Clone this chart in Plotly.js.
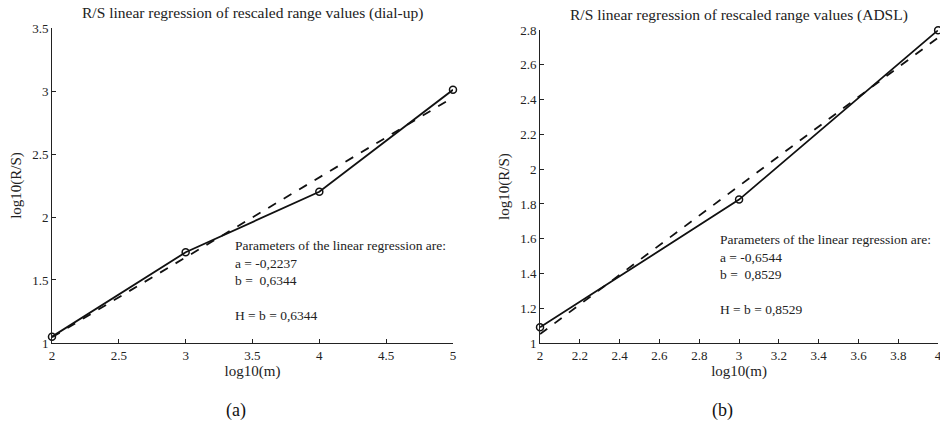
<!DOCTYPE html>
<html><head><meta charset="utf-8">
<script src="https://cdn.plot.ly/plotly-3.0.1.min.js"></script>
<style>html,body{margin:0;padding:0;background:#fff}#c{width:940px;height:425px}</style>
</head><body><div id="c"></div>
<script>
// Panel (a): dial-up
const dialX = [2, 3, 4, 5];
const dialY = [1.05, 1.72, 2.20, 3.01];
const dialFitX = [2, 5];
const dialFitY = [1.045, 2.949];
const dialXTicks = [2, 2.5, 3, 3.5, 4, 4.5, 5];
const dialYTicks = [1, 1.5, 2, 2.5, 3, 3.5];
// Panel (b): ADSL
const adslX = [2, 3, 4];
const adslY = [1.09, 1.825, 2.80];
const adslFitX = [2, 4];
const adslFitY = [1.051, 2.757];
const adslXTicks = [2, 2.2, 2.4, 2.6, 2.8, 3, 3.2, 3.4, 3.6, 3.8, 4];
const adslYTicks = [1, 1.2, 1.4, 1.6, 1.8, 2, 2.2, 2.4, 2.6, 2.8];

const titles = ["R/S linear regression of rescaled range values (dial-up)",
                "R/S linear regression of rescaled range values (ADSL)"];
const params = ["Parameters of the linear regression are:<br>a = -0,2237<br>b =  0,6344<br><br>H = b = 0,6344",
                "Parameters of the linear regression are:<br>a = -0,6544<br>b =  0,8529<br><br>H = b = 0,8529"];
const captions = ["(a)", "(b)"];

const F = "'Liberation Serif', 'Times New Roman', 'DejaVu Serif', serif";
const lineStyle = {color: "#111", width: 1.8};
const traces = [
  {x: dialX, y: dialY, xaxis: "x", yaxis: "y", mode: "lines+markers", line: lineStyle,
   marker: {symbol: "circle-open", size: 7, color: "#111", line: {width: 1.5}}, cliponaxis: false},
  {x: dialFitX, y: dialFitY, xaxis: "x", yaxis: "y", mode: "lines", line: {color: "#111", width: 1.8, dash: "dash"}},
  {x: adslX, y: adslY, xaxis: "x2", yaxis: "y2", mode: "lines+markers", line: lineStyle,
   marker: {symbol: "circle-open", size: 7, color: "#111", line: {width: 1.5}}, cliponaxis: false},
  {x: adslFitX, y: adslFitY, xaxis: "x2", yaxis: "y2", mode: "lines", line: {color: "#111", width: 1.8, dash: "dash"}}
];

function ax(extra) {
  return Object.assign({showline: true, linecolor: "#222", linewidth: 1, ticks: "inside", ticklen: 4,
    tickcolor: "#222", showgrid: false, zeroline: false, mirror: false, tickmode: "array",
    ticklabeloverflow: "allow",
    tickfont: {family: F, size: 13, color: "#222"}}, extra);
}
const tf = {family: F, size: 15, color: "#222"};
const hf = {family: F, size: 15.5, color: "#222"};
const pf = {family: F, size: 13.5, color: "#222"};

const layout = {
  width: 940, height: 425, margin: {l: 0, r: 0, t: 0, b: 0},
  paper_bgcolor: "#fff", plot_bgcolor: "#fff", showlegend: false,
  xaxis: ax({domain: [0.0553, 0.4819], range: [2, 5], tickvals: dialXTicks, anchor: "y",
    title: {text: "log10(m)", standoff: 2, font: tf}}),
  yaxis: ax({domain: [0.193, 0.934], range: [1, 3.5], tickvals: dialYTicks, anchor: "x",
    title: {text: "log10(R/S)", standoff: 6, font: tf}}),
  xaxis2: ax({domain: [0.5745, 0.998], range: [2, 4], tickvals: adslXTicks, anchor: "y2",
    title: {text: "log10(m)", standoff: 2, font: tf}}),
  yaxis2: ax({domain: [0.193, 0.929], range: [1, 2.8], tickvals: adslYTicks, anchor: "x2",
    title: {text: "log10(R/S)", standoff: 6, font: tf}}),
  annotations: [
    {xref: "paper", yref: "paper", x: 252/940, y: 1 - 13/425, text: titles[0], showarrow: false,
     font: hf, xanchor: "center", yanchor: "middle"},
    {xref: "paper", yref: "paper", x: 739/940, y: 1 - 15/425, text: titles[1], showarrow: false,
     font: hf, xanchor: "center", yanchor: "middle"},
    {xref: "paper", yref: "paper", x: 233/940, y: 1 - 236/425, text: params[0], showarrow: false, align: "left",
     font: pf, xanchor: "left", yanchor: "top"},
    {xref: "paper", yref: "paper", x: 718/940, y: 1 - 230/425, text: params[1], showarrow: false, align: "left",
     font: pf, xanchor: "left", yanchor: "top"},
    {xref: "paper", yref: "paper", x: 236/940, y: 1 - 410/425, text: captions[0], showarrow: false,
     font: {family: F, size: 18, color: "#111"}, xanchor: "center", yanchor: "middle"},
    {xref: "paper", yref: "paper", x: 722/940, y: 1 - 410/425, text: captions[1], showarrow: false,
     font: {family: F, size: 18, color: "#111"}, xanchor: "center", yanchor: "middle"}
  ]
};
Plotly.newPlot("c", traces, layout, {displayModeBar: false, staticPlot: true});
</script></body></html>
